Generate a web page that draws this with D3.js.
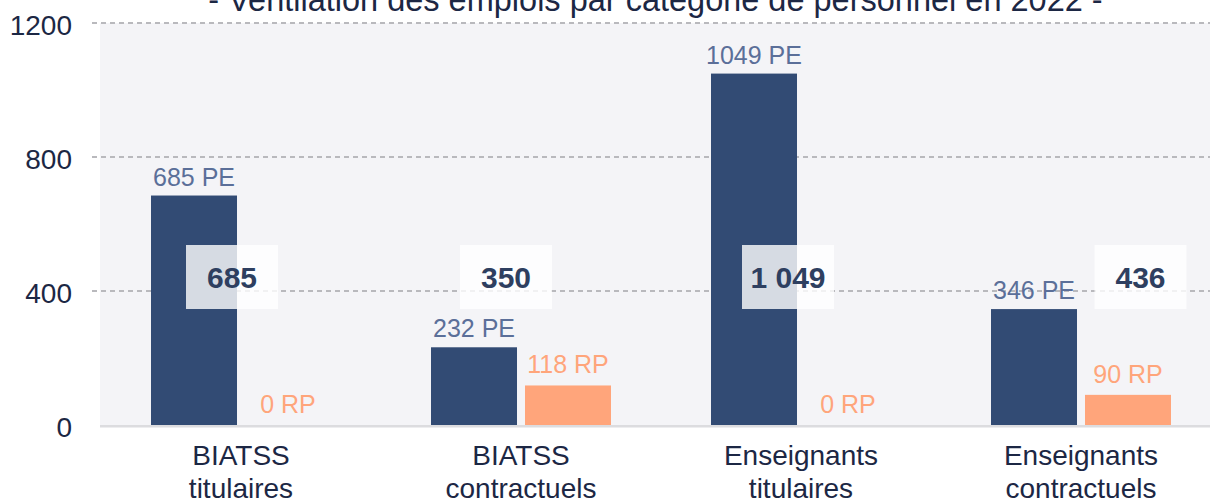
<!DOCTYPE html>
<html>
<head>
<meta charset="utf-8">
<script src="https://d3js.org/d3.v7.min.js"></script>
<style>
  html, body { margin: 0; padding: 0; background: #fff; }
  svg { display: block; font-family: "Liberation Sans", Arial, sans-serif; }
</style>
</head>
<body>
<div id="chart"></div>
<script>
// data
const categories = ["BIATSS titulaires", "BIATSS contractuels", "Enseignants titulaires", "Enseignants contractuels"];
const pe = [685, 232, 1049, 346];
const rp = [0, 118, 0, 90];
const yTicks = [0, 400, 800, 1200];
const title = "- Ventilation des emplois par catégorie de personnel en 2022 -";

const w = 1210, h = 501;
const plotLeft = 100, plotTop = 23, plotBottom = 425;

const svg = d3.select("#chart").append("svg")
    .attr("width", w)
    .attr("height", h);

const x = d3.scaleBand().domain(categories).range([101, 1221]);
const xInner = d3.scaleBand().domain(["PE", "RP"]).range([50, 230]).paddingInner(0.085);
const y = d3.scaleLinear().domain([0, 1200]).range([plotBottom, plotTop]);

// plot background
svg.append("rect")
    .attr("x", plotLeft).attr("y", plotTop)
    .attr("width", w - plotLeft).attr("height", plotBottom - plotTop)
    .attr("fill", "#f4f4f7");

// gridlines
svg.selectAll(".grid")
    .data(yTicks.filter(d => d > 0))
    .enter().append("line")
    .attr("x1", 92).attr("x2", w)
    .attr("y1", d => y(d)).attr("y2", d => y(d))
    .attr("stroke", "#b9b9bd")
    .attr("stroke-width", 2)
    .attr("stroke-dasharray", "5,4");

// y labels
svg.selectAll(".ytick")
    .data(yTicks)
    .enter().append("text")
    .attr("x", 72)
    .attr("y", d => y(d) + 2)
    .attr("text-anchor", "end")
    .attr("dominant-baseline", "central")
    .attr("font-size", 28)
    .attr("fill", "#1c2744")
    .text(d => d);

// title (cut by the top edge, as in the picture)
svg.append("text")
    .attr("x", 655.5).attr("y", 10.5)
    .attr("text-anchor", "middle")
    .attr("font-size", 32.5)
    .attr("fill", "#1c2744")
    .text(title);

const groups = svg.selectAll(".grp")
    .data(categories)
    .enter().append("g")
    .attr("transform", d => `translate(${x(d)},0)`);

// PE bars
groups.append("rect")
    .attr("x", xInner("PE"))
    .attr("y", (d, i) => y(pe[i]))
    .attr("width", xInner.bandwidth())
    .attr("height", (d, i) => plotBottom - y(pe[i]))
    .attr("fill", "#324b74");

// RP bars
groups.append("rect")
    .attr("x", xInner("RP"))
    .attr("y", (d, i) => y(rp[i]))
    .attr("width", xInner.bandwidth())
    .attr("height", (d, i) => plotBottom - y(rp[i]))
    .attr("fill", "#ffa57b");

// bar labels
groups.append("text")
    .attr("x", xInner("PE") + xInner.bandwidth() / 2)
    .attr("y", (d, i) => y(pe[i]) - 10)
    .attr("text-anchor", "middle")
    .attr("font-size", 25)
    .attr("fill", "#5b6f99")
    .text((d, i) => pe[i] + " PE");

groups.append("text")
    .attr("x", xInner("RP") + xInner.bandwidth() / 2)
    .attr("y", (d, i) => y(rp[i]) - 12)
    .attr("text-anchor", "middle")
    .attr("font-size", 25)
    .attr("fill", "#ffa57b")
    .text((d, i) => rp[i] + " RP");

// total boxes (their horizontal spot differs per group in the picture)
const boxShift = [-9, -15, -13, 59.5];
const fmt = v => d3.format(",")(v).replace(",", " ");
const tot = groups.append("g")
    .attr("transform", (d, i) => `translate(${x.bandwidth() / 2 + boxShift[i]},277)`);
tot.append("rect")
    .attr("x", -46).attr("y", -32)
    .attr("width", 92).attr("height", 64)
    .attr("fill", "#fff")
    .attr("fill-opacity", 0.8);
tot.append("text")
    .attr("y", 11)
    .attr("text-anchor", "middle")
    .attr("font-size", 30)
    .attr("font-weight", "bold")
    .attr("fill", "#2e3f60")
    .text((d, i) => fmt(pe[i] + rp[i]));

// x axis line
svg.append("line")
    .attr("x1", plotLeft).attr("x2", w)
    .attr("y1", plotBottom + 1.3).attr("y2", plotBottom + 1.3)
    .attr("stroke", "#dcdcdf")
    .attr("stroke-width", 2.6);

// category labels on two lines
const cat = groups.append("text")
    .attr("text-anchor", "middle")
    .attr("font-size", 28)
    .attr("fill", "#1c2744");
cat.append("tspan")
    .attr("x", x.bandwidth() / 2).attr("y", 464.5)
    .text(d => d.split(" ")[0]);
cat.append("tspan")
    .attr("x", x.bandwidth() / 2).attr("y", 497.5)
    .text(d => d.split(" ")[1]);
</script>
</body>
</html>
